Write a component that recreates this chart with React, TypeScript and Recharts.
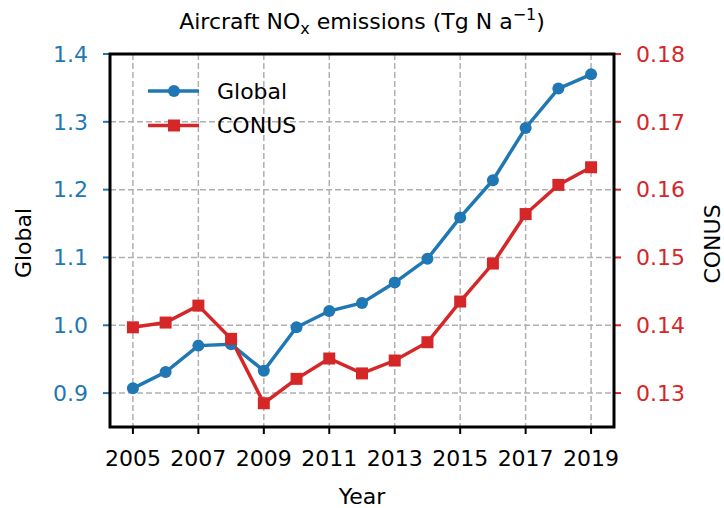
import { LineChart, Line, XAxis, YAxis, CartesianGrid } from 'recharts'

const years = [2005, 2006, 2007, 2008, 2009, 2010, 2011, 2012, 2013, 2014, 2015, 2016, 2017, 2018, 2019]
const globalValues = [0.907, 0.931, 0.970, 0.972, 0.933, 0.997, 1.021, 1.033, 1.063, 1.098, 1.159, 1.214, 1.291, 1.349, 1.370]
const conusValues = [0.1397, 0.1404, 0.1429, 0.1380, 0.1285, 0.1321, 0.1351, 0.1329, 0.1348, 0.1375, 0.1435, 0.1491, 0.1564, 0.1607, 0.1633]

const xTicks = [2005, 2007, 2009, 2011, 2013, 2015, 2017, 2019]
const leftTicks = [0.9, 1.0, 1.1, 1.2, 1.3, 1.4]
const rightTicks = [0.13, 0.14, 0.15, 0.16, 0.17, 0.18]

const BLUE = '#1f77b4'
const RED = '#d62728'
const FONT = '"DejaVu Sans", sans-serif'

const data = years.map((year, i) => ({ year, global: globalValues[i], conus: conusValues[i] }))

const legendItems = [
  { name: 'Global', color: BLUE, marker: 'circle' },
  { name: 'CONUS', color: RED, marker: 'square' },
]

function SquareDot(props: any) {
  const { cx, cy } = props
  if (cx == null || cy == null) return null
  return <rect x={cx - 6} y={cy - 6} width={12} height={12} fill={RED} />
}

function CircleDot(props: any) {
  const { cx, cy } = props
  if (cx == null || cy == null) return null
  return <circle cx={cx} cy={cy} r={6} fill={BLUE} />
}

export default function App() {
  return (
    <div style={{ position: 'absolute', left: 0, top: 0, width: 724, height: 508, background: '#fff', fontFamily: FONT }}>
      <LineChart width={724} height={508} data={data} margin={{ top: 54, right: 0, bottom: 0, left: 0 }}>
        <CartesianGrid yAxisId="left" stroke="#b0b0b0" strokeWidth={1.5} strokeDasharray="6 3" />
        <XAxis
          dataKey="year"
          type="number"
          domain={[2004.3, 2019.7]}
          ticks={xTicks}
          allowDataOverflow
          height={81}
          axisLine={false}
          tickLine={{ stroke: '#000', strokeWidth: 2 }}
          tickSize={7}
          tickMargin={16}
          tick={{ fill: '#000', fontSize: 22, fontFamily: FONT }}
        />
        <YAxis
          yAxisId="left"
          domain={[0.85, 1.4]}
          ticks={leftTicks}
          allowDataOverflow
          width={110}
          axisLine={false}
          tickLine={{ stroke: BLUE, strokeWidth: 2 }}
          tickSize={7}
          tickMargin={15}
          tickFormatter={(v: number) => v.toFixed(1)}
          tick={{ fill: BLUE, fontSize: 22, fontFamily: FONT }}
        />
        <YAxis
          yAxisId="right"
          orientation="right"
          domain={[0.125, 0.18]}
          ticks={rightTicks}
          allowDataOverflow
          width={110}
          axisLine={false}
          tickLine={{ stroke: RED, strokeWidth: 2 }}
          tickSize={7}
          tickMargin={15}
          tickFormatter={(v: number) => v.toFixed(2)}
          tick={{ fill: RED, fontSize: 22, fontFamily: FONT }}
        />
        <Line
          yAxisId="left"
          dataKey="global"
          name="Global"
          type="linear"
          stroke={BLUE}
          strokeWidth={3.5}
          dot={<CircleDot />}
          activeDot={false}
          isAnimationActive={false}
        />
        <Line
          yAxisId="right"
          dataKey="conus"
          name="CONUS"
          type="linear"
          stroke={RED}
          strokeWidth={3.5}
          dot={<SquareDot />}
          activeDot={false}
          isAnimationActive={false}
        />
      </LineChart>
      <svg width={724} height={508} style={{ position: 'absolute', left: 0, top: 0, pointerEvents: 'none' }} fontFamily={FONT}>
        {/* frame */}
        <rect x={110} y={54} width={504} height={373} fill="none" stroke="#000" strokeWidth={3} />
        {/* title */}
        <text x={362} y={29} textAnchor="middle" fontSize={22} fill="#000">
          Aircraft NO<tspan dy={5} fontSize={16}>x</tspan>
          <tspan dy={-5}> emissions (Tg N a</tspan>
          <tspan dy={-9} fontSize={16}>−1</tspan>
          <tspan dy={9}>)</tspan>
        </text>
        {/* axis labels */}
        <text x={362} y={504} textAnchor="middle" fontSize={22} fill="#000">Year</text>
        <text x={31} y={243} textAnchor="middle" fontSize={22} fill="#000" transform="rotate(-90 31 243)">Global</text>
        <text x={720} y={244} textAnchor="middle" fontSize={22} fill="#000" transform="rotate(-90 720 244)">CONUS</text>
        {/* legend */}
        {legendItems.map((item, i) => {
          const y = 91 + i * 34.5
          return (
            <g key={item.name}>
              <line x1={148} x2={199} y1={y} y2={y} stroke={item.color} strokeWidth={3.5} />
              {item.marker === 'circle'
                ? <circle cx={174} cy={y} r={6} fill={item.color} />
                : <rect x={168} y={y - 6} width={12} height={12} fill={item.color} />}
              <text x={217} y={y} dy="0.36em" fontSize={22} fill="#000">{item.name}</text>
            </g>
          )
        })}
      </svg>
    </div>
  )
}
